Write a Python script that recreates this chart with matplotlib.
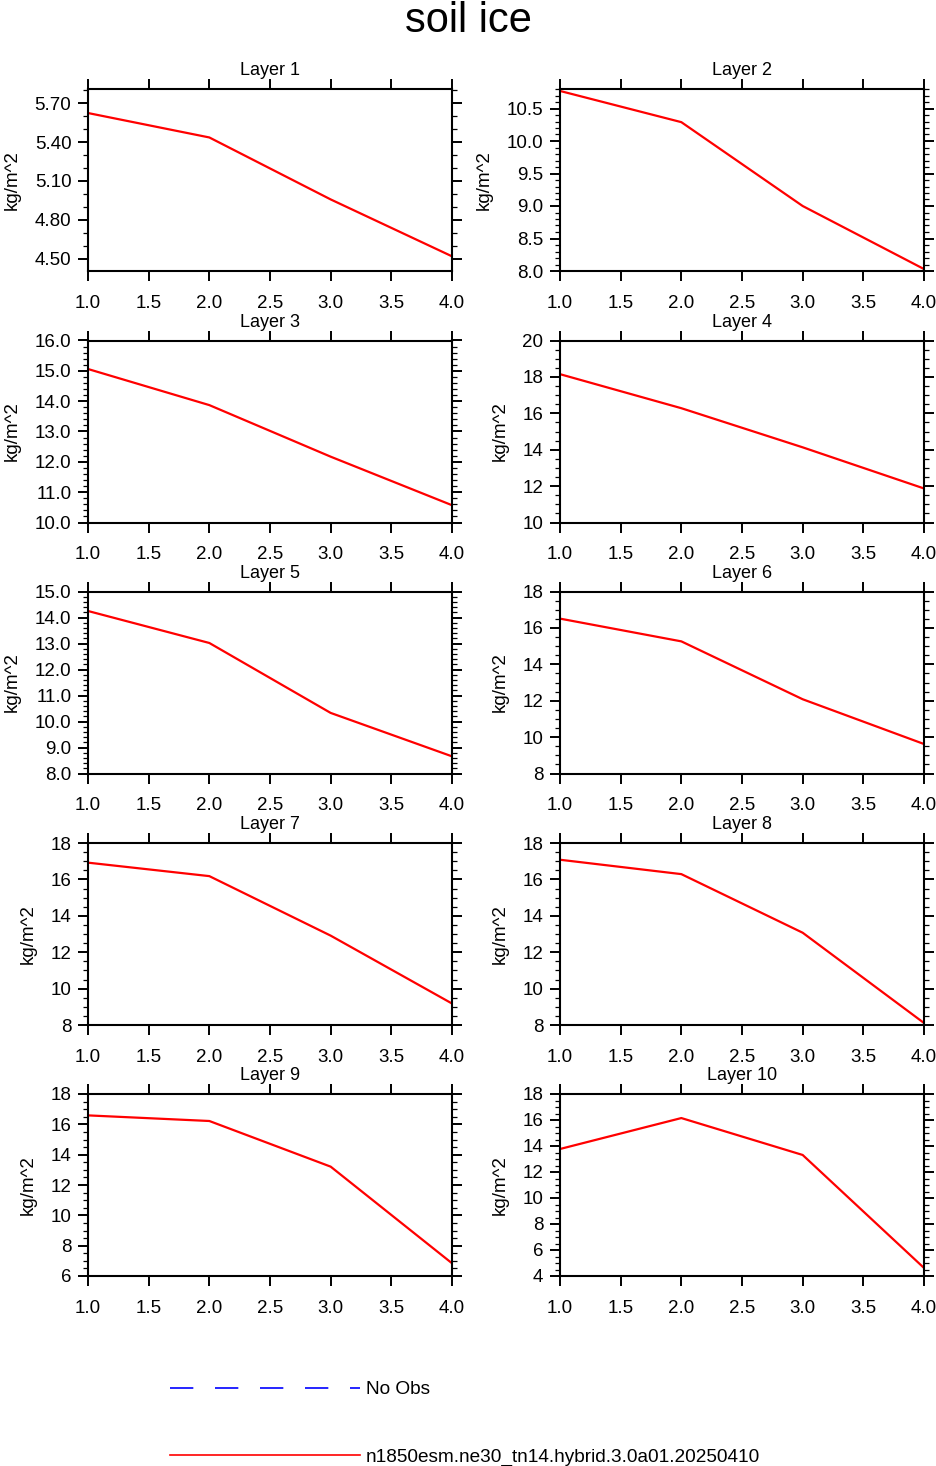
import numpy as np
import matplotlib
matplotlib.use('Agg')
import matplotlib.pyplot as plt
from matplotlib.ticker import MultipleLocator, FormatStrFormatter
from matplotlib.lines import Line2D

plt.rcParams['font.family'] = ['Liberation Sans', 'DejaVu Sans']

# data
x = [1, 2, 3, 4]
layer_1 = [5.623, 5.435, 4.958, 4.52]
layer_2 = [10.77, 10.29, 9.00, 8.03]
layer_3 = [15.06, 13.87, 12.17, 10.57]
layer_4 = [18.15, 16.28, 14.13, 11.87]
layer_5 = [14.25, 13.02, 10.33, 8.66]
layer_6 = [16.51, 15.26, 12.08, 9.62]
layer_7 = [16.92, 16.18, 12.91, 9.18]
layer_8 = [17.08, 16.29, 13.07, 8.11]
layer_9 = [16.59, 16.22, 13.21, 6.84]
layer_10 = [13.77, 16.15, 13.31, 4.62]

layers = [layer_1, layer_2, layer_3, layer_4, layer_5,
          layer_6, layer_7, layer_8, layer_9, layer_10]
titles = ['Layer %d' % (i + 1) for i in range(10)]

y_limits = [(4.407, 5.808), (8.0, 10.80), (10, 16), (10, 20), (8, 15),
            (8, 18), (8, 18), (8, 18), (6, 18), (4, 18)]
y_major = [0.3, 0.5, 1, 2, 1, 2, 2, 2, 2, 2]
y_minor = [0.1, 0.1, 0.2, 0.5, 0.2, 0.5, 0.5, 0.5, 0.5, 0.5]
y_fmt = ['%.2f', '%.1f', '%.1f', '%d', '%.1f', '%d', '%d', '%d', '%d', '%d']

model_name = 'n1850esm.ne30_tn14.hybrid.3.0a01.20250410'

W, H = 937, 1466
fig = plt.figure(figsize=(W / 100, H / 100), dpi=100)

col_left = [88, 560]
ax_w = 364
row_top = [89, 340.5, 591.5, 843, 1094]
ax_h = 182

for i, vals in enumerate(layers):
    r, c = divmod(i, 2)
    ax = fig.add_axes([col_left[c] / W, 1 - (row_top[r] + ax_h) / H,
                       ax_w / W, ax_h / H])
    ax.plot(x, vals, color='red', lw=1.6)
    ax.set_xlim(1, 4)
    ax.set_ylim(*y_limits[i])
    ax.xaxis.set_major_locator(MultipleLocator(0.5))
    ax.xaxis.set_major_formatter(FormatStrFormatter('%.1f'))
    ax.yaxis.set_major_locator(MultipleLocator(y_major[i]))
    ax.yaxis.set_minor_locator(MultipleLocator(y_minor[i]))
    ax.yaxis.set_major_formatter(FormatStrFormatter(y_fmt[i]))
    ax.tick_params(which='both', direction='out', top=True, right=True,
                   labelsize=13.5, color='black')
    ax.tick_params(which='major', length=7, width=1.4)
    ax.tick_params(which='minor', length=3.5, width=0.9)
    ax.tick_params(axis='x', which='major', pad=10)
    ax.tick_params(axis='y', which='major', pad=5)
    ax.tick_params(axis='x', which='minor', bottom=False, top=False)
    for s in ax.spines.values():
        s.set_linewidth(1.5)
    ax.set_ylabel('kg/m^2', fontsize=13.5, labelpad=10)
    ax.annotate(titles[i], xy=(0.5, 1), xycoords='axes fraction',
                xytext=(0, 10), textcoords='offset points',
                ha='center', va='baseline', fontsize=13)

fig.text(0.5, 1 - 32 / H, 'soil ice', ha='center', va='baseline', fontsize=30)

# legend
handles = [Line2D([], [], color='blue', lw=1.2, dashes=(14, 13)),
           Line2D([], [], color='red', lw=1.2)]
fig.legend(handles, ['No Obs', model_name], loc='upper left',
           bbox_to_anchor=(170 / W, 1 - 1381 / H), frameon=False,
           fontsize=13.7, handlelength=10.0, handletextpad=0.3,
           labelspacing=2.64, borderpad=0, borderaxespad=0)

fig.savefig('out.png', dpi=100)
